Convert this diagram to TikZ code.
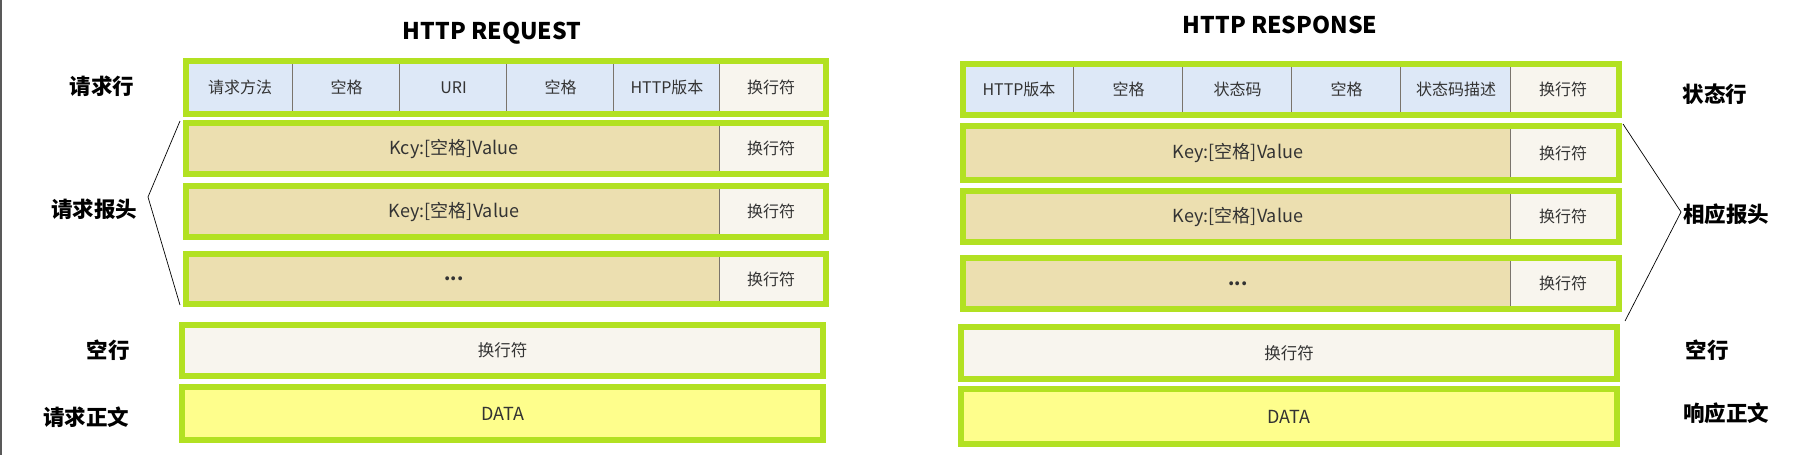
\documentclass[tikz,border=0pt]{standalone}
\usepackage{fontspec}
\setmainfont{Noto Sans CJK SC}
\definecolor{lime}{HTML}{B2E122}
\definecolor{cblue}{HTML}{DDE8F7}
\definecolor{ctan}{HTML}{ECDFB0}
\definecolor{cwhite}{HTML}{F8F5EE}
\definecolor{cyel}{HTML}{FEFE8C}
\definecolor{ctext}{HTML}{333333}
\definecolor{cdiv}{HTML}{7A746C}
\begin{document}
\begin{tikzpicture}[x=1pt,y=-1pt,
  frame/.style={draw=lime, line width=6pt},
  cell/.style={inner sep=0pt, text=ctext, font=\fontsize{16}{16}\selectfont},
  kv/.style={inner sep=0pt, text=ctext, font=\fontsize{18}{18}\selectfont},
  lbl/.style={inner sep=0pt, text=black, font=\fontsize{21.5}{21.5}\selectfont\bfseries},
  ttl/.style={inner sep=0pt, text=black, font=\fontsize{23}{23}\selectfont\bfseries},
  divl/.style={draw=cdiv, line width=0.8pt},
  brace/.style={draw=black, line width=0.7pt}]
\useasboundingbox (0,0) rectangle (1818,455);
\fill[white] (0,0) rectangle (1818,455);
\draw[black!65, line width=1.6pt] (1,0) -- (1,455);

% ---------- titles ----------
\node[ttl] (tq) at (492,33) {HTTP REQUEST};
\node[ttl] (tr) at (1280,25) {HTTP RESPONSE};

% ---------- request line ----------
\foreach \a/\b/\t [count=\i] in {186/292/请求方法,292/399/空格,399/506/URI,506/613/空格,613/719/HTTP版本}{
  \fill[cblue] (\a,61) rectangle (\b,114);
  \node[cell] (qc\i) at ({(\a+\b)/2+1},87.5) {\t};
}
\fill[cwhite] (719,61) rectangle (826,114);
\node[cell] (qc6) at (771,87.5) {换行符};
\foreach \x in {292,399,506,613,719}{\draw[divl] (\x,64) -- (\x,111);}
\node[frame, minimum width=640pt, minimum height=53pt, inner sep=0pt] (ql) at (506,87.5) {};

% ---------- request headers ----------
\foreach \ya/\yb/\t [count=\i] in {123/174/{Kcy:[空格]Value},186/237/{Key:[空格]Value},254/304/{\textbf{...}}}{
  \fill[ctan] (186,\ya) rectangle (719,\yb);
  \fill[cwhite] (719,\ya) rectangle (826,\yb);
  \draw[divl] (719,\ya+3) -- (719,\yb-3);
  \node[kv] (qh\i) at (454,{(\ya+\yb)/2}) {\t};
  \node[cell] (qn\i) at (771,{(\ya+\yb)/2}) {换行符};
  \node[frame, minimum width=640pt, minimum height={\yb-\ya}, inner sep=0pt] (qr\i) at (506,{(\ya+\yb)/2}) {};
}

% ---------- request empty line / body ----------
\node[frame, fill=cwhite, minimum width=641pt, minimum height=51pt, inner sep=0pt] (qe) at (502.5,350.5) {};
\node[cell, font=\fontsize{16.5}{16.5}\selectfont] (qet) at (qe) {换行符};
\node[frame, fill=cyel, minimum width=641pt, minimum height=53pt, inner sep=0pt] (qd) at (502.5,413.5) {};
\node[kv] (qdt) at (qd) {DATA};

% ---------- request labels ----------
\node[lbl] (lq1) at (102,86) {请求行};
\node[lbl] (lq2) at (94,209) {请求报头};
\node[lbl] (lq3) at (108,350) {空行};
\node[lbl] (lq4) at (86,417) {请求正文};

\coordinate (qv) at (148,197);
\draw[brace] ([xshift=-3pt,yshift=-1pt]qr1.north west) -- (qv) -- ([xshift=-3pt,yshift=2pt]qr3.south west);

% ---------- response status line ----------
\foreach \a/\b/\t [count=\i] in {963/1073/HTTP版本,1073/1182/空格,1182/1291/状态码,1291/1400/空格,1400/1510/状态码描述}{
  \fill[cblue] (\a,64) rectangle (\b,115);
  \node[cell] (rc\i) at ({(\a+\b)/2+1},89.5) {\t};
}
\fill[cwhite] (1510,64) rectangle (1619,115);
\node[cell] (rc6) at (1563,89.5) {换行符};
\foreach \x in {1073,1182,1291,1400,1510}{\draw[divl] (\x,67) -- (\x,112);}
\node[frame, minimum width=656pt, minimum height=51pt, inner sep=0pt] (rl) at (1291,89.5) {};

% ---------- response headers ----------
\foreach \ya/\yb/\t [count=\i] in {126/180/{Key:[空格]Value},191/242/{Key:[空格]Value},258/309/{\textbf{...}}}{
  \fill[ctan] (963,\ya) rectangle (1510,\yb);
  \fill[cwhite] (1510,\ya) rectangle (1619,\yb);
  \draw[divl] (1510,\ya+3) -- (1510,\yb-3);
  \node[kv] (rh\i) at (1238,{(\ya+\yb)/2}) {\t};
  \node[cell] (rn\i) at (1563,{(\ya+\yb)/2}) {换行符};
  \node[frame, minimum width=656pt, minimum height={\yb-\ya}, inner sep=0pt] (rr\i) at (1291,{(\ya+\yb)/2}) {};
}

% ---------- response empty line / body ----------
\node[frame, fill=cwhite, minimum width=656pt, minimum height=52pt, inner sep=0pt] (re) at (1289,353) {};
\node[cell, font=\fontsize{16.5}{16.5}\selectfont] (ret) at (re) {换行符};
\node[frame, fill=cyel, minimum width=656pt, minimum height=55pt, inner sep=0pt] (rd) at (1289,416.5) {};
\node[kv] (rdt) at (rd) {DATA};

% ---------- response labels ----------
\node[lbl] (lr1) at (1715,94) {状态行};
\node[lbl] (lr2) at (1726,214) {相应报头};
\node[lbl] (lr3) at (1707,350) {空行};
\node[lbl] (lr4) at (1726,413) {响应正文};

\coordinate (rv) at (1681,212);
\draw[brace] ([xshift=1pt,yshift=-1pt]rr1.north east) -- (rv) -- ([xshift=3pt,yshift=-9pt]rr3.south east);
\end{tikzpicture}
\end{document}
